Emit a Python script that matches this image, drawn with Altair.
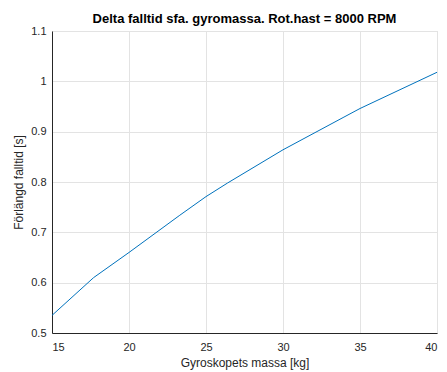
import altair as alt
import pandas as pd

mass = [15, 17.7, 20, 23.3, 25, 26.4, 30, 33.9, 35, 40]
delta_t = [0.535, 0.610, 0.660, 0.734, 0.771, 0.798, 0.864, 0.928, 0.946, 1.018]
x_ticks = [15, 20, 25, 30, 35, 40]
y_ticks = [0.5, 0.6, 0.7, 0.8, 0.9, 1.0, 1.1]

df = pd.DataFrame({"m": mass, "t": delta_t})

FONT = "Liberation Sans"
axis_common = dict(
    labelFont=FONT, labelFontSize=11, labelColor="#262626",
    titleFont=FONT, titleFontSize=12, titleColor="#262626", titleFontWeight="normal",
    gridColor="#e3e3e3", gridWidth=1, domainColor="#262626", domainWidth=1,
    tickColor="#262626", tickSize=0,
)

line = alt.Chart(df).mark_line(color="#0072BD", strokeWidth=1).encode(
    x=alt.X("m:Q", scale=alt.Scale(domain=[15, 40], nice=False),
            axis=alt.Axis(values=x_ticks, title="Gyroskopets massa [kg]", format="~g",
                          labelPadding=8, titlePadding=5, **axis_common)),
    y=alt.Y("t:Q", scale=alt.Scale(domain=[0.5, 1.1], nice=False, zero=False),
            axis=alt.Axis(values=y_ticks, title="Förlängd falltid [s]", format="~g",
                          labelPadding=6, titlePadding=5, **axis_common)),
)

chart = line.properties(
    width=385, height=302,
    title=alt.TitleParams("Delta falltid sfa. gyromassa. Rot.hast = 8000 RPM",
                          font=FONT, fontSize=13, fontWeight="bold", color="#000000",
                          offset=-1, anchor="middle"),
    autosize=alt.AutoSizeParams(type="none"),
    padding={"left": 44, "top": 23, "right": 2, "bottom": 40},
).configure_view(stroke="#262626", strokeWidth=1).configure(background="white")

chart.save("out.html", embed_options={"renderer": "svg", "actions": False})
